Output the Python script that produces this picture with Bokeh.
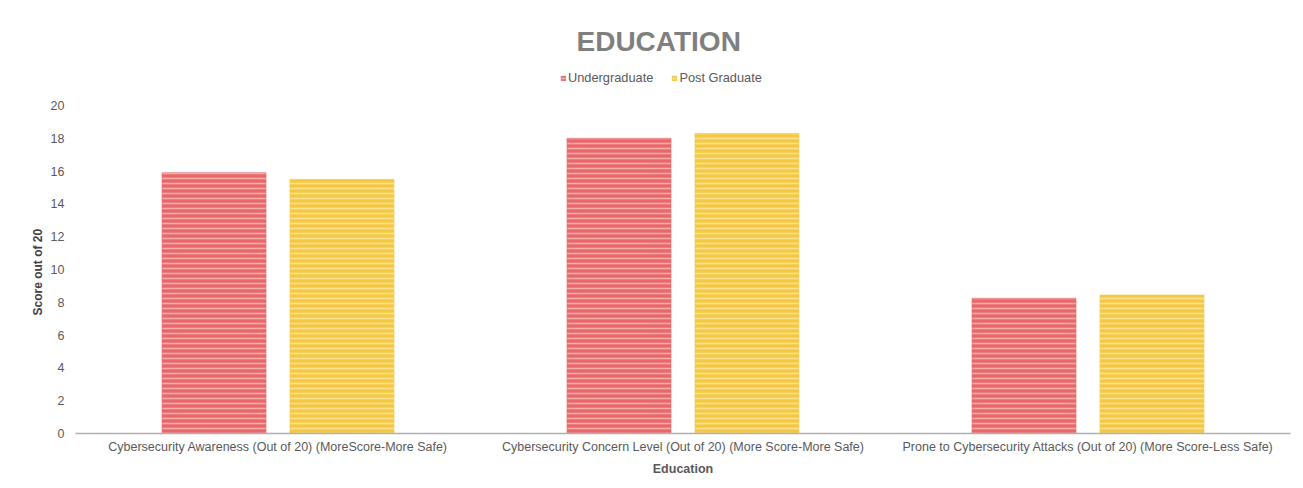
from bokeh.plotting import figure
from bokeh.models import ColumnDataSource, FactorRange, FixedTicker, Legend, LegendItem, Range1d, Title
from bokeh.transform import dodge
from bokeh.embed import file_html
from bokeh.resources import INLINE

categories = [
    "Cybersecurity Awareness (Out of 20) (MoreScore-More Safe)",
    "Cybersecurity Concern Level (Out of 20) (More Score-More Safe)",
    "Prone to Cybersecurity Attacks (Out of 20) (More Score-Less Safe)",
]
undergraduate = [15.9, 18.0, 8.25]
post_graduate = [15.5, 18.3, 8.45]
y_ticks = [0, 2, 4, 6, 8, 10, 12, 14, 16, 18, 20]

FONT = "Liberation Sans"

src = ColumnDataSource(dict(cat=categories, ug=undergraduate, pg=post_graduate))

# frame spans y=60..433 px; 20 units = 328 px -> range top ~22.74
p = figure(
    x_range=FactorRange(*categories, range_padding=0),
    y_range=Range1d(0, 22.74),
    width=1303, height=488,
    output_backend="svg", toolbar_location=None,
    min_border_left=75, min_border_right=13, min_border_bottom=55, min_border_top=60,
)
p.outline_line_color = None
p.xgrid.grid_line_color = None
p.ygrid.grid_line_color = None

r_ug = p.vbar(x=dodge("cat", -0.158, range=p.x_range), top="ug", width=0.257, source=src,
              fill_color="#e8676a", line_color="#e8676a", line_width=0.5,
              hatch_pattern="horizontal_line", hatch_color="#f7b4b2", hatch_scale=5,
              hatch_weight=1.6, hatch_alpha=0.9)
r_pg = p.vbar(x=dodge("cat", 0.158, range=p.x_range), top="pg", width=0.257, source=src,
              fill_color="#f5c843", line_color="#f5c843", line_width=0.5,
              hatch_pattern="horizontal_line", hatch_color="#fce39a", hatch_scale=5,
              hatch_weight=1.6, hatch_alpha=0.9)

p.title.text = "EDUCATION"
p.title.align = "left"
p.title.offset = 501
p.title.text_font = FONT
p.title.text_font_size = "28px"
p.title.text_font_style = "bold"
p.title.text_color = "#7f7f7f"
p.title.standoff = 8

legend = Legend(items=[LegendItem(label="Undergraduate", renderers=[r_ug]),
                       LegendItem(label="Post Graduate", renderers=[r_pg])],
                orientation="horizontal", location=(485, 348),
                label_text_font=FONT, label_text_font_size="12.8px", label_text_color="#595959",
                glyph_width=6, glyph_height=6, label_standoff=2, spacing=18,
                padding=2, margin=0, border_line_color=None, background_fill_alpha=0)
p.add_layout(legend, "center")

xa = p.xaxis[0]
xa.axis_label = "Education"
xa.axis_label_text_font = FONT
xa.axis_label_text_font_size = "12.5px"
xa.axis_label_text_font_style = "bold"
xa.axis_label_text_color = "#595959"
xa.axis_label_standoff = 5
xa.major_label_text_font = FONT
xa.major_label_text_font_size = "12.5px"
xa.major_label_text_color = "#595959"
xa.major_label_standoff = 6
xa.axis_line_color = "#b0b0b0"
xa.axis_line_width = 1.5
xa.major_tick_line_color = None
xa.minor_tick_line_color = None
xa.major_tick_out = 0
xa.major_tick_in = 0

ya = p.yaxis[0]
ya.ticker = FixedTicker(ticks=y_ticks)
ya.major_label_text_font = FONT
ya.major_label_text_font_size = "12.5px"
ya.major_label_text_color = "#595959"
ya.major_label_standoff = 11
ya.axis_line_color = None
ya.major_tick_line_color = None
ya.minor_tick_line_color = None
ya.major_tick_out = 0
ya.major_tick_in = 0

# y-axis title as a side title so it can be centred on the 0-20 span
ytitle = Title(text="Score out of 20", align="left", offset=118, standoff=6,
               text_font=FONT, text_font_size="12px", text_font_style="bold",
               text_color="#404040")
p.add_layout(ytitle, "left")

open("out.html", "w").write(file_html(p, INLINE))
